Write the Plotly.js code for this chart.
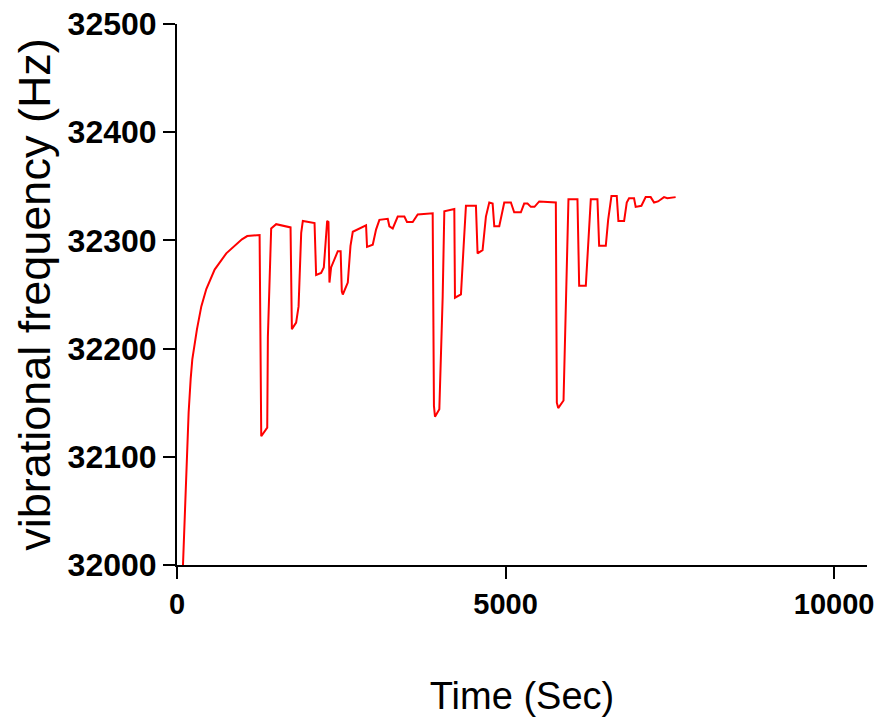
<!DOCTYPE html>
<html>
<head>
<meta charset="utf-8">
<script src="https://cdn.plot.ly/plotly-3.0.1.min.js"></script>
<style>html,body{margin:0;padding:0;background:#fff;}#chart{width:877px;height:727px;}</style>
</head>
<body>
<div id="chart"></div>
<script>
const timeSec = [91, 106, 125, 142, 177, 208, 233, 304, 370, 446, 573, 750, 877, 988, 1069, 1257,
 1282, 1373, 1383, 1433, 1509, 1728,
 1748, 1813, 1850, 1890, 1915, 2093,
 2117, 2193, 2234, 2285, 2305, 2320, 2345, 2447, 2490, 2508, 2523, 2599, 2640, 2675, 2877,
 2892, 2979, 3029, 3080, 3207, 3232, 3283, 3359, 3460, 3500, 3587, 3663, 3891,
 3910, 3926, 3992, 4043, 4068, 4220,
 4230, 4321, 4362, 4397, 4549,
 4574, 4650, 4701, 4752, 4803,
 4828, 4904, 4980, 5081, 5131, 5233, 5283, 5334, 5385, 5440, 5512, 5765,
 5780, 5801, 5882, 5917, 5957, 6094,
 6120, 6221, 6257, 6297, 6398,
 6424, 6525, 6561, 6611, 6692,
 6717, 6804, 6844, 6879, 6955,
 6980, 7067, 7132, 7208, 7260, 7320, 7411, 7462, 7588];
const freqHz = [32000, 32024, 32060, 32098, 32141, 32172, 32190, 32218, 32239, 32255, 32273, 32288, 32295, 32301, 32304, 32305,
 32119, 32127, 32211, 32311, 32315, 32312,
 32218, 32224, 32239, 32307, 32318, 32316,
 32268, 32270, 32275, 32318, 32317, 32261, 32275, 32290, 32290, 32253, 32250, 32261, 32295, 32308, 32314,
 32294, 32296, 32310, 32319, 32320, 32313, 32311, 32322, 32322, 32317, 32317, 32324, 32325,
 32147, 32137, 32144, 32248, 32327, 32329,
 32247, 32250, 32295, 32332, 32332,
 32288, 32291, 32322, 32335, 32334,
 32313, 32313, 32335, 32335, 32326, 32326, 32334, 32334, 32331, 32331, 32336, 32335,
 32150, 32145, 32152, 32233, 32338, 32338,
 32258, 32258, 32295, 32338, 32338,
 32295, 32295, 32319, 32341, 32341,
 32318, 32318, 32335, 32339, 32339,
 32331, 32332, 32340, 32340, 32335, 32336, 32340, 32339, 32340];
const xTicks = [0, 5000, 10000];
const yTicks = [32000, 32100, 32200, 32300, 32400, 32500];

const trace = {
  x: timeSec, y: freqHz, type: 'scatter', mode: 'lines',
  line: {color: '#ff0000', width: 2}, hoverinfo: 'skip'
};
const fam = 'Liberation Sans, Arial, sans-serif';
const layout = {
  width: 877, height: 727,
  margin: {l: 177, r: 10, t: 24, b: 162},
  paper_bgcolor: '#fff', plot_bgcolor: '#fff',
  showlegend: false,
  font: {family: fam, color: '#000'},
  xaxis: {
    range: [0, 10500], tickvals: xTicks, ticktext: xTicks.map(String),
    showgrid: false, zeroline: false, showline: true, linecolor: '#000', linewidth: 2,
    ticks: 'outside', ticklen: 12, tickwidth: 2, tickcolor: '#000',
    tickfont: {size: 29, family: fam, weight: 'bold', color: '#000'}, ticklabeloverflow: 'allow',
    title: {text: 'Time (Sec)', font: {size: 38}, standoff: 64}
  },
  yaxis: {
    range: [32000, 32500], tickvals: yTicks, ticktext: yTicks.map(String),
    showgrid: false, zeroline: false, showline: true, linecolor: '#000', linewidth: 2,
    ticks: 'outside', ticklen: 12, tickwidth: 2, tickcolor: '#000',
    tickfont: {size: 32, family: fam, weight: 'bold', color: '#000'}, ticklabeloverflow: 'allow',
    title: {text: 'vibrational frequency (Hz)', font: {size: 45}, standoff: 3}
  }
};
Plotly.newPlot('chart', [trace], layout, {displayModeBar: false, staticPlot: true});
</script>
</body>
</html>
